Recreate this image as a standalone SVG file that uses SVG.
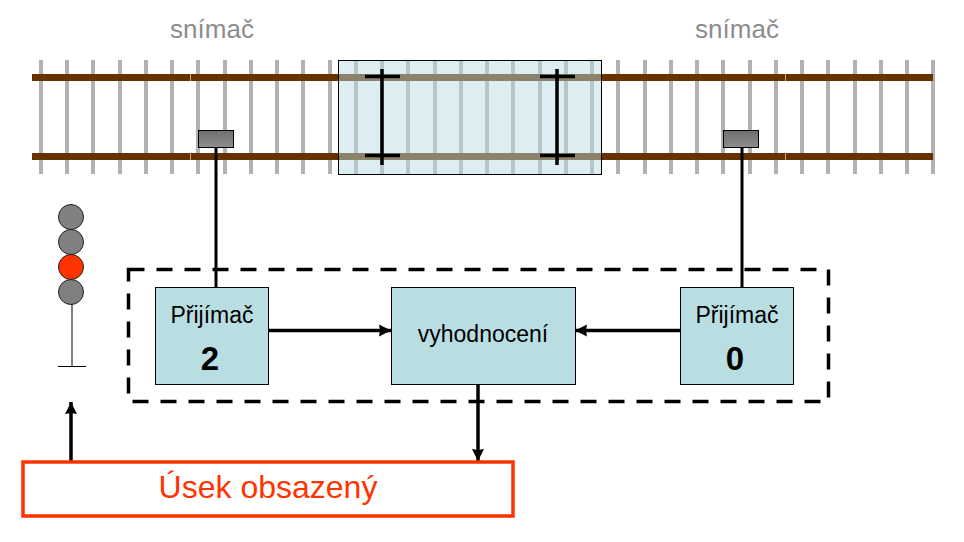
<svg xmlns="http://www.w3.org/2000/svg" width="964" height="542" viewBox="0 0 964 542">
<defs>
<marker id="ah" markerUnits="userSpaceOnUse" markerWidth="13" markerHeight="13" refX="12" refY="6.500" orient="auto"><path d="M0 0.500L12 6.500L0 12.500L1 6.500Z" fill="#000"/></marker>
<linearGradient id="sg" x1="0" y1="0" x2="0" y2="1"><stop offset="0" stop-color="#6f6f6f"/><stop offset="1" stop-color="#8e8e8e"/></linearGradient>
</defs>
<style>
text{font-family:"Liberation Sans",Arial,sans-serif;text-anchor:middle}
.tie{stroke:#b2b2b2;stroke-width:4}
.rail{stroke:#663300;stroke-width:7}
.joint{stroke:#c9a98a;stroke-width:1}
.box{fill:#b9dee2;stroke:#000;stroke-width:1}
.lbl{font-size:23px;fill:#000}
.num{font-size:33px;font-weight:bold;fill:#000}
.sn{font-size:26px;fill:#8c8c8c}
.sensor{fill:url(#sg);stroke:#000;stroke-width:1}
.line{stroke:#000;stroke-width:3;fill:none}
.arrow{stroke:#000;stroke-width:3.500;fill:none;marker-end:url(#ah)}
.axle{stroke:#000;stroke-width:3.500;fill:none}
.lamp{stroke:#222;stroke-width:1}
</style>
<g id="track">
<path class="tie" d="M41 60V174M67 60V174M93 60V174M120 60V174M146 60V174M172 60V174M198 60V174M225 60V174M251 60V174M277 60V174M303 60V174M330 60V174M356 60V174M382 60V174M408 60V174M435 60V174M461 60V174M487 60V174M513 60V174M540 60V174M566 60V174M592 60V174M618 60V174M645 60V174M671 60V174M697 60V174M723 60V174M750 60V174M776 60V174M802 60V174M828 60V174M855 60V174M881 60V174M907 60V174M933 60V174"/>
<path class="rail" d="M32 77.500H933M32 156.500H933"/>
<path class="joint" d="M190.500 74V81M190.500 153V160M785.500 74V81M785.500 153V160"/>
</g>
<g id="vlak">
<rect x="338.500" y="60.500" width="263" height="114" fill="#b7dbe3" fill-opacity="0.48" stroke="#000" stroke-width="1"/>
<path class="axle" d="M365 76.500H400M365 155.500H400M382 69V165M540 76.500H575M540 155.500H575M557 69V165"/>
</g>
<g id="connectors">
<path class="line" d="M216 148V288M742 148V288"/>
<path class="arrow" d="M269 330.500H391"/>
<path class="arrow" d="M681 330.500H575"/>
<path class="arrow" d="M478 384V461"/>
<path class="arrow" d="M71 461V402"/>
</g>
<g id="hranice"><rect x="128.500" y="269.500" width="700" height="132" fill="none" stroke="#000" stroke-width="3.500" stroke-dasharray="16 12"/></g>
<g id="snimac-2"><text class="sn" x="212" y="38">snímač</text><rect class="sensor" x="198.500" y="130.500" width="35" height="17"/></g>
<g id="snimac-0"><text class="sn" x="737" y="38">snímač</text><rect class="sensor" x="723.500" y="130.500" width="35" height="17"/></g>
<g id="prijimac-2"><rect class="box" x="155.500" y="287.500" width="113" height="97"/><text class="lbl" x="212" y="323">Přijímač</text><text class="num" x="210" y="370">2</text></g>
<g id="vyhodnoceni"><rect class="box" x="391.500" y="287.500" width="184" height="97"/><text class="lbl" x="483" y="342">vyhodnocení</text></g>
<g id="prijimac-0"><rect class="box" x="680.500" y="287.500" width="113" height="97"/><text class="lbl" x="737" y="323">Přijímač</text><text class="num" x="735" y="370">0</text></g>
<g id="usek"><rect x="23" y="462" width="490" height="54" fill="#fff" stroke="#ff3300" stroke-width="3.500"/><text x="268" y="498" font-size="32" fill="#ff3300">Úsek obsazený</text></g>
<g id="navestidlo">
<path d="M72 304V366" stroke="#000" stroke-width="1"/><path d="M58 366.500H86" stroke="#000" stroke-width="1"/>
<circle class="lamp" cx="71" cy="217" r="12.500" fill="#808080"/>
<circle class="lamp" cx="71" cy="242" r="12.500" fill="#808080"/>
<circle class="lamp" cx="71" cy="267" r="12.500" fill="#ff3300"/>
<circle class="lamp" cx="71" cy="292" r="12.500" fill="#808080"/>
</g>
</svg>
